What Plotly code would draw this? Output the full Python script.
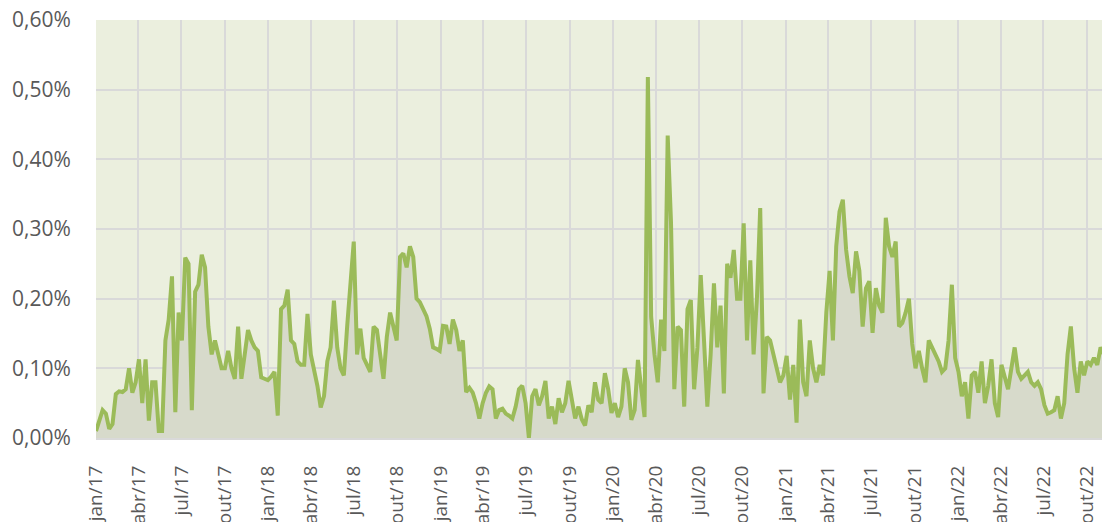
import pandas as pd
import plotly.graph_objects as go

# weekly readings (in %), starting 2017-01-01
start_date = "2017-01-01"
values_2017 = [0.01, 0.025, 0.04, 0.035, 0.013, 0.02, 0.063, 0.067, 0.066, 0.07,
               0.10, 0.065, 0.08, 0.113, 0.05, 0.113, 0.025, 0.08, 0.08, 0.01,
               0.01, 0.14, 0.17, 0.232, 0.037, 0.18, 0.14, 0.259, 0.25, 0.04,
               0.21, 0.22, 0.263, 0.245, 0.16, 0.12, 0.14, 0.12, 0.10, 0.10,
               0.125, 0.10, 0.085, 0.16, 0.085, 0.12, 0.155, 0.14, 0.13, 0.125,
               0.087, 0.085]
values_2018 = [0.083, 0.088, 0.095, 0.032, 0.185, 0.19, 0.213, 0.14, 0.135, 0.11,
               0.105, 0.105, 0.178, 0.12, 0.10, 0.075, 0.044, 0.06, 0.11, 0.13,
               0.197, 0.13, 0.10, 0.09, 0.16, 0.213, 0.282, 0.12, 0.157, 0.115,
               0.105, 0.095, 0.16, 0.155, 0.12, 0.085, 0.145, 0.18, 0.16, 0.14,
               0.26, 0.265, 0.245, 0.275, 0.26, 0.20, 0.195, 0.185, 0.175, 0.157]
values_2019 = [0.13, 0.128, 0.125, 0.161, 0.16, 0.135, 0.17, 0.155, 0.125, 0.14,
               0.066, 0.072, 0.065, 0.05, 0.028, 0.05, 0.065, 0.074, 0.07, 0.028,
               0.04, 0.042, 0.035, 0.032, 0.028, 0.045, 0.07, 0.075, 0.05, 0.0,
               0.06, 0.07, 0.047, 0.06, 0.082, 0.028, 0.045, 0.02, 0.057, 0.037,
               0.05, 0.082, 0.055, 0.028, 0.045, 0.027, 0.018, 0.047, 0.037, 0.08,
               0.055]
values_2020 = [0.05, 0.093, 0.07, 0.036, 0.05, 0.03, 0.045, 0.10, 0.08, 0.026,
               0.04, 0.112, 0.07, 0.03, 0.518, 0.174, 0.12, 0.08, 0.17, 0.125,
               0.434, 0.31, 0.07, 0.16, 0.155, 0.045, 0.185, 0.198, 0.07, 0.13,
               0.234, 0.13, 0.045, 0.12, 0.222, 0.13, 0.19, 0.064, 0.25, 0.23,
               0.27, 0.20, 0.20, 0.308, 0.14, 0.255, 0.12, 0.20, 0.33, 0.064,
               0.145]
values_2021 = [0.14, 0.12, 0.10, 0.08, 0.09, 0.118, 0.055, 0.105, 0.022, 0.17,
               0.08, 0.06, 0.14, 0.10, 0.08, 0.105, 0.09, 0.18, 0.24, 0.14,
               0.275, 0.325, 0.342, 0.27, 0.232, 0.208, 0.268, 0.24, 0.16, 0.215,
               0.225, 0.151, 0.215, 0.19, 0.18, 0.316, 0.275, 0.26, 0.282, 0.16,
               0.165, 0.18, 0.20, 0.135, 0.10, 0.125, 0.10, 0.08, 0.14, 0.13]
values_2022 = [0.12, 0.11, 0.095, 0.10, 0.14, 0.22, 0.115, 0.095, 0.06, 0.08,
               0.028, 0.09, 0.095, 0.065, 0.11, 0.05, 0.075, 0.113, 0.05, 0.03,
               0.105, 0.085, 0.07, 0.10, 0.13, 0.095, 0.085, 0.09, 0.095, 0.08,
               0.075, 0.08, 0.07, 0.047, 0.035, 0.037, 0.04, 0.06, 0.028, 0.05,
               0.12, 0.16, 0.10, 0.065, 0.11, 0.09, 0.11, 0.105, 0.115, 0.105,
               0.13, 0.12]

values_pct = (values_2017 + values_2018 + values_2019 + values_2020
              + values_2021 + values_2022)
values = [v / 100 for v in values_pct]
dates = pd.date_range(start_date, periods=len(values), freq="7D")

tick_dates = ["2017-01-01", "2017-04-01", "2017-07-01", "2017-10-01",
              "2018-01-01", "2018-04-01", "2018-07-01", "2018-10-01",
              "2019-01-01", "2019-04-01", "2019-07-01", "2019-10-01",
              "2020-01-01", "2020-04-01", "2020-07-01", "2020-10-01",
              "2021-01-01", "2021-04-01", "2021-07-01", "2021-10-01",
              "2022-01-01", "2022-04-01", "2022-07-01", "2022-10-01"]
tick_labels = ["jan/17", "abr/17", "jul/17", "out/17",
               "jan/18", "abr/18", "jul/18", "out/18",
               "jan/19", "abr/19", "jul/19", "out/19",
               "jan/20", "abr/20", "jul/20", "out/20",
               "jan/21", "abr/21", "jul/21", "out/21",
               "jan/22", "abr/22", "jul/22", "out/22"]
y_ticks = [0.0, 0.001, 0.002, 0.003, 0.004, 0.005, 0.006]

fig = go.Figure()
fig.add_trace(go.Scatter(x=dates, y=values, mode="lines", fill="tozeroy",
                         fillcolor="#D7DACB", line=dict(width=0),
                         hoverinfo="skip", showlegend=False))
fig.add_trace(go.Scatter(x=dates, y=values, mode="lines",
                         line=dict(color="#9BBB59", width=4),
                         showlegend=False))

yfont = dict(family="Open Sans, sans-serif", size=21, color="#595959")
xfont = dict(family="Open Sans, sans-serif", size=19, color="#595959")
fig.update_layout(
    width=1102, height=522,
    margin=dict(l=96, r=0, t=20, b=84),
    paper_bgcolor="white", plot_bgcolor="#EBEFDE",
    separators=",.",
    font=yfont,
)
fig.update_xaxes(
    type="date", range=["2017-01-01", "2022-11-02"],
    tickvals=tick_dates, ticktext=tick_labels, tickangle=-90,
    showgrid=True, gridcolor="#D9D9D9", gridwidth=2,
    ticks="outside", ticklen=18, tickcolor="rgba(0,0,0,0)",
    showline=True, linecolor="#D9D9D9", linewidth=2,
    zeroline=False, automargin=False, tickfont=xfont,
)
fig.update_yaxes(
    range=[0, 0.006], tickvals=y_ticks, tickformat=".2%",
    showgrid=True, gridcolor="#D9D9D9", gridwidth=2,
    ticks="outside", ticklen=20, tickcolor="rgba(0,0,0,0)",
    zeroline=False, automargin=False, tickfont=yfont,
)
fig.write_html(
    "out.html",
    config={"displayModeBar": False},
    post_script="document.body.style.margin='0';document.body.style.overflow='hidden';",
)
